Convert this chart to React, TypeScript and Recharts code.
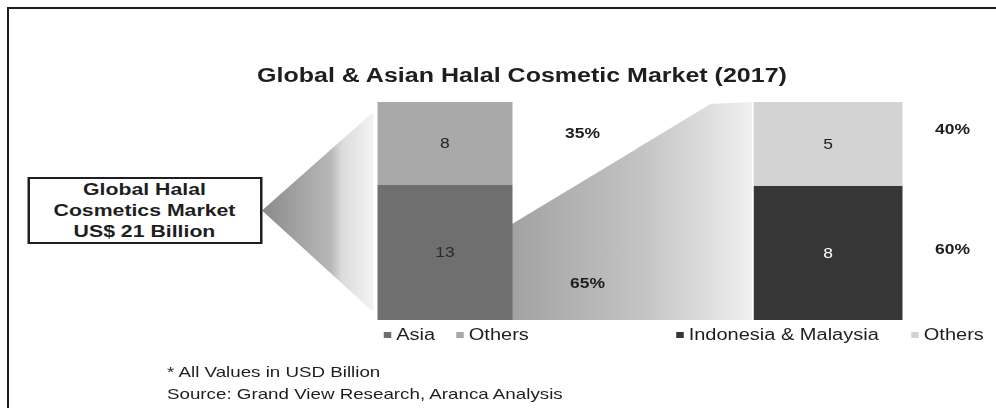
import React from 'react';
import { BarChart, Bar, XAxis, YAxis, LabelList, Legend } from 'recharts';

// Values in USD billion
const GLOBAL_SPLIT = ['Asia', 'Others'];
const GLOBAL_VALUES = [13, 8];
const GLOBAL_SHARES = [65, 35];
const GLOBAL_COLORS = ['#6f6f6f', '#a9a9a9'];

const ASIA_SPLIT = ['Indonesia & Malaysia', 'Others'];
const ASIA_VALUES = [8, 5];
const ASIA_SHARES = [60, 40];
const ASIA_COLORS = ['#363636', '#d3d3d3'];

const NOTES = ['* All Values in USD Billion', 'Source: Grand View Research, Aranca Analysis'];

const FONT = '"Liberation Sans", Arial, Helvetica, sans-serif';
const INK = '#1e1e1e';

// the reference picture is stretched sideways, so the whole thing is drawn
// narrow and then scaled on x
const SX = 1.25;
const W = 996 / SX;
const H = 408;
const PLOT_TOP = 102;
const PLOT_BOTTOM = 320;

// chart frames (unscaled px)
const A = { left: 250, width: 260, right: 48.8, bar: 108 };
const B = { left: 540, width: 256, right: 12, bar: 119 };
const center = (c: typeof A) => c.left + (c.width - c.right) / 2;
const BAR1_L = center(A) - A.bar / 2;
const BAR1_R = center(A) + A.bar / 2;
const BAR2_L = center(B) - B.bar / 2;

const BOX = { left: 21.6, top: 177, width: 188, height: 67 };

const toRow = (name: string, values: number[], shares: number[]) => {
  const row: Record<string, any> = { name };
  values.forEach((v, i) => {
    row[`v${i}`] = v;
    row[`p${i}`] = shares[i];
  });
  return [row];
};

const globalData = toRow('Global', GLOBAL_VALUES, GLOBAL_SHARES);
const asiaData = toRow('Asia', ASIA_VALUES, ASIA_SHARES);

const shareLabel = (dx: number, dy: number) => (props: any) => {
  const { x, y, width, height, value } = props;
  return (
    <text
      x={x + width + dx}
      y={y + height / 2 + dy}
      textAnchor="middle"
      dominantBaseline="central"
      fontSize={14}
      fontWeight={700}
      fill={INK}
    >
      {value}%
    </text>
  );
};

const legendContent = (gap: number) => (props: any) => (
  <div
    style={{
      display: 'flex',
      justifyContent: 'center',
      gap,
      fontSize: 16,
      lineHeight: '20px',
      color: INK,
      whiteSpace: 'nowrap',
    }}
  >
    {(props.payload || []).map((e: any) => (
      <span key={e.value} style={{ display: 'flex', alignItems: 'center' }}>
        <span style={{ width: 6, height: 6, background: e.color, marginRight: 4 }} />
        {e.value}
      </span>
    ))}
  </div>
);

function SplitChart({
  frame,
  data,
  names,
  colors,
  valueFills,
  shareOffsets,
  legendLeft,
  legendWidth,
  legendGap,
}: any) {
  return (
    <div style={{ position: 'absolute', left: frame.left, top: 0 }}>
      <BarChart
        width={frame.width}
        height={H}
        data={data}
        stackOffset="expand"
        barSize={frame.bar}
        margin={{ top: PLOT_TOP, right: frame.right, bottom: H - PLOT_BOTTOM, left: 0 }}
      >
        <XAxis dataKey="name" hide />
        <YAxis hide domain={[0, 1]} />
        {names.map((n: string, i: number) => (
          <Bar
            key={n}
            dataKey={`v${i}`}
            name={n}
            stackId="s"
            fill={colors[i]}
            isAnimationActive={false}
          >
            <LabelList dataKey={`v${i}`} position="center" fill={valueFills[i]} fontSize={14} />
            <LabelList
              dataKey={`p${i}`}
              content={shareLabel(shareOffsets[i][0], shareOffsets[i][1])}
            />
          </Bar>
        ))}
        <Legend
          verticalAlign="middle"
          align="center"
          content={legendContent(legendGap)}
          wrapperStyle={{ top: 325, left: legendLeft, width: legendWidth }}
        />
      </BarChart>
    </div>
  );
}

export default function App() {
  const total = GLOBAL_VALUES.reduce((a, b) => a + b, 0);
  return (
    <div
      style={{
        position: 'absolute',
        left: 0,
        top: 0,
        width: 996,
        height: H,
        background: '#fff',
        overflow: 'hidden',
        fontFamily: FONT,
      }}
    >
      <div
        style={{
          position: 'absolute',
          left: 7,
          top: 7,
          right: -10,
          bottom: -10,
          borderTop: `2px solid ${INK}`,
          borderLeft: `2px solid ${INK}`,
        }}
      />
      <div
        style={{
          position: 'absolute',
          left: 0,
          top: 0,
          width: W,
          height: H,
          transform: `scaleX(${SX})`,
          transformOrigin: '0 0',
        }}
      >
        <svg width={W} height={H} style={{ position: 'absolute', left: 0, top: 0 }}>
          <defs>
            <linearGradient id="funnel1" x1="0" y1="0" x2="1" y2="0">
              <stop offset="0%" stopColor="#8a8a8a" />
              <stop offset="62%" stopColor="#b8b8b8" />
              <stop offset="72%" stopColor="#dcdcdc" />
              <stop offset="100%" stopColor="#f3f3f3" />
            </linearGradient>
            <linearGradient id="funnel2" x1="0" y1="0" x2="1" y2="0">
              <stop offset="0%" stopColor="#a2a2a2" />
              <stop offset="55%" stopColor="#c4c4c4" />
              <stop offset="78%" stopColor="#dadada" />
              <stop offset="100%" stopColor="#f0f0f0" />
            </linearGradient>
          </defs>
          <polygon
            points={`${BOX.left + BOX.width},${BOX.top + BOX.height / 2} ${BAR1_L - 3},${PLOT_TOP + 10} ${BAR1_L - 3},${PLOT_BOTTOM - 8}`}
            fill="url(#funnel1)"
          />
          <polygon
            points={`${BAR1_R},${PLOT_TOP + 122} ${BAR2_L - 34},${PLOT_TOP + 2} ${BAR2_L - 1},${PLOT_TOP} ${BAR2_L - 1},${PLOT_BOTTOM} ${BAR1_R},${PLOT_BOTTOM}`}
            fill="url(#funnel2)"
          />
        </svg>

        <div
          style={{
            position: 'absolute',
            left: 117.6,
            width: 600,
            top: 63,
            textAlign: 'center',
            fontSize: 20,
            fontWeight: 700,
            lineHeight: '24px',
            color: INK,
          }}
        >
          Global &amp; Asian Halal Cosmetic Market (2017)
        </div>

        <div
          style={{
            position: 'absolute',
            left: BOX.left,
            top: BOX.top,
            width: BOX.width,
            height: BOX.height,
            boxSizing: 'border-box',
            border: `2px solid ${INK}`,
            background: '#fff',
            display: 'flex',
            flexDirection: 'column',
            justifyContent: 'center',
            textAlign: 'center',
            fontSize: 17,
            fontWeight: 700,
            lineHeight: '21px',
            color: INK,
          }}
        >
          <div>Global Halal</div>
          <div>Cosmetics Market</div>
          <div>US$ {total} Billion</div>
        </div>

        <SplitChart
          frame={A}
          data={globalData}
          names={GLOBAL_SPLIT}
          colors={GLOBAL_COLORS}
          valueFills={['#2a2a2a', '#1e1e1e']}
          shareOffsets={[[60, 31], [56, -10]]}
          legendLeft={0}
          legendWidth={230}
          legendGap={17}
        />
        <SplitChart
          frame={B}
          data={asiaData}
          names={ASIA_SPLIT}
          colors={ASIA_COLORS}
          valueFills={['#ffffff', '#1e1e1e']}
          shareOffsets={[[40, -4], [40, -15]]}
          legendLeft={0}
          legendWidth={248}
          legendGap={26}
        />

        <div
          style={{
            position: 'absolute',
            left: 133.6,
            top: 361,
            fontSize: 15,
            lineHeight: '22px',
            color: INK,
            whiteSpace: 'nowrap',
          }}
        >
          {NOTES.map((t) => (
            <div key={t}>{t}</div>
          ))}
        </div>
      </div>
    </div>
  );
}
